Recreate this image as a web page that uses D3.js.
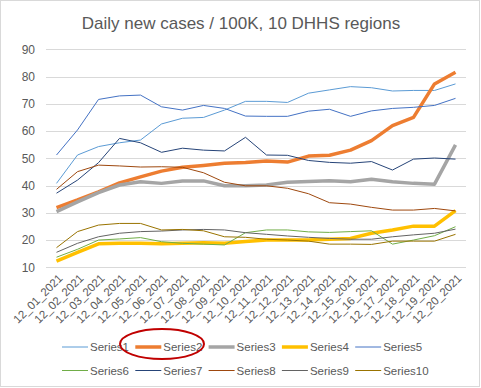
<!DOCTYPE html>
<html>
<head>
<meta charset="utf-8">
<script src="https://cdn.jsdelivr.net/npm/d3@7"></script>
<style>
  body { margin: 0; background: #fff; }
  text { font-family: "Liberation Sans", Arial, sans-serif; fill: #595959; }
</style>
</head>
<body>
<div id="content"></div>
<script>
var dates = ['12_01_2021', '12_02_2021', '12_03_2021', '12_04_2021', '12_05_2021',
    '12_06_2021', '12_07_2021', '12_08_2021', '12_09_2021', '12_10_2021',
    '12_11_2021', '12_12_2021', '12_13_2021', '12_14_2021', '12_15_2021',
    '12_16_2021', '12_17_2021', '12_18_2021', '12_19_2021', '12_20_2021'];
var yTicks = [10, 20, 30, 40, 50, 60, 70, 80, 90];

var series1 = [40.8, 51.2, 54.3, 55.7, 56.7, 62.6, 64.7, 65.0, 67.7, 70.9, 70.9, 70.5, 73.9, 75.1, 76.3, 75.9, 74.7, 74.9, 74.9, 77.3];
var series2 = [31.9, 34.7, 37.7, 41.0, 43.2, 45.3, 46.7, 47.4, 48.2, 48.5, 49.0, 48.6, 50.8, 51.1, 53.0, 56.5, 62.0, 65.0, 77.3, 81.6];
var series3 = [30.4, 34.0, 37.4, 40.2, 41.4, 40.8, 41.7, 41.7, 39.9, 39.9, 40.2, 41.2, 41.5, 41.8, 41.4, 42.3, 41.4, 40.8, 40.5, 54.9];
var series4 = [12.3, 15.5, 18.6, 18.8, 18.8, 18.6, 18.8, 19.0, 18.8, 19.5, 20.0, 20.0, 20.0, 20.3, 20.6, 22.5, 23.7, 25.1, 25.1, 30.8];
var series5 = [51.2, 60.4, 71.6, 72.9, 73.2, 68.9, 67.7, 69.4, 68.3, 65.5, 65.4, 65.4, 67.3, 68.0, 65.4, 67.4, 68.3, 68.7, 69.4, 72.0];
var series6 = [13.7, 16.6, 20.0, 20.4, 20.9, 19.4, 18.8, 18.5, 18.2, 22.7, 23.7, 23.7, 23.0, 22.8, 23.1, 23.4, 18.5, 20.0, 21.6, 24.9];
var series7 = [37.2, 42.0, 48.4, 57.3, 55.7, 52.2, 53.7, 53.0, 52.7, 57.7, 51.2, 51.1, 49.2, 48.5, 48.2, 48.8, 45.7, 49.7, 50.1, 49.7];
var series8 = [38.6, 45.1, 47.5, 47.2, 46.8, 46.9, 46.7, 44.7, 41.2, 39.9, 39.9, 39.0, 37.0, 33.7, 33.2, 32.0, 31.0, 31.0, 31.6, 30.7];
var series9 = [15.5, 18.8, 21.2, 22.5, 23.1, 23.3, 23.7, 23.9, 23.7, 22.7, 22.1, 21.5, 21.0, 20.6, 20.3, 20.3, 21.2, 21.9, 22.5, 24.0];
var series10 = [17.2, 23.1, 25.5, 26.1, 26.1, 23.7, 23.9, 23.4, 21.2, 21.0, 20.3, 20.0, 19.6, 18.5, 18.5, 18.4, 19.6, 19.6, 19.6, 22.1];

var names = ['Series1', 'Series2', 'Series3', 'Series4', 'Series5',
    'Series6', 'Series7', 'Series8', 'Series9', 'Series10'];
var colors = ['#5b9bd5', '#ed7d31', '#a5a5a5', '#ffc000', '#4472c4',
    '#70ad47', '#264478', '#9e480e', '#636363', '#997300'];
var widths = [1, 3.5, 3.5, 3.5, 1, 1, 1, 1, 1, 1];
var allSeries = [series1, series2, series3, series4, series5,
    series6, series7, series8, series9, series10];

var W = 481, H = 388;
var svg = d3.select('#content').append('svg')
    .attr('width', W)
    .attr('height', H);

// chart border
svg.append('rect')
    .attr('x', 0.5).attr('y', 0.5)
    .attr('width', W - 2).attr('height', H - 2)
    .attr('fill', '#fff').attr('stroke', '#d9d9d9');

svg.append('text')
    .attr('x', 241).attr('y', 29)
    .attr('text-anchor', 'middle')
    .style('font-size', '17px')
    .text('Daily new cases / 100K, 10 DHHS regions');

var x = d3.scaleBand().domain(dates).range([46, 466]);
var y = d3.scaleLinear().domain([10, 90]).range([267.3, 49.3]);

// gridlines
svg.append('g').selectAll('line')
    .data(yTicks).enter().append('line')
    .attr('x1', 46).attr('x2', 466)
    .attr('y1', function(d) { return Math.round(y(d)) + 0.5; })
    .attr('y2', function(d) { return Math.round(y(d)) + 0.5; })
    .attr('stroke', '#d9d9d9');

// y labels
svg.append('g').selectAll('text')
    .data(yTicks).enter().append('text')
    .attr('x', 35)
    .attr('y', function(d) { return y(d); })
    .attr('dy', '0.35em')
    .attr('text-anchor', 'end')
    .style('font-size', '12px')
    .text(function(d) { return d; });

// x labels, rotated
svg.append('g').selectAll('text')
    .data(dates).enter().append('text')
    .attr('transform', function(d) {
        return 'translate(' + (x(d) + x.bandwidth() / 2 + 4) + ',276) rotate(-45)';
    })
    .attr('text-anchor', 'end')
    .attr('dy', '0.35em')
    .style('font-size', '11.5px')
    .text(function(d) { return d; });

var line = d3.line()
    .x(function(d, i) { return x(dates[i]) + x.bandwidth() / 2; })
    .y(function(d) { return y(d); });

// draw in Excel order so later series sit on top
allSeries.forEach(function(s, k) {
    svg.append('path')
        .attr('d', line(s))
        .attr('fill', 'none')
        .attr('stroke', colors[k])
        .attr('stroke-width', widths[k])
        .attr('stroke-linejoin', 'round');
});

// legend, two rows of five
var legend = svg.append('g');
names.forEach(function(n, k) {
    var col = k % 5, row = Math.floor(k / 5);
    var lx = 62 + col * 73.3, ly = 347 + row * 23.5;
    legend.append('line')
        .attr('x1', lx).attr('x2', lx + 26)
        .attr('y1', ly).attr('y2', ly)
        .attr('stroke', colors[k])
        .attr('stroke-width', widths[k]);
    legend.append('text')
        .attr('x', lx + 28).attr('y', ly)
        .attr('dy', '0.35em')
        .style('font-size', '11.5px')
        .text(n);
});

// red ellipse drawn around the Series2 legend entry
svg.append('ellipse')
    .attr('cx', 162).attr('cy', 344)
    .attr('rx', 42).attr('ry', 15)
    .attr('fill', 'none')
    .attr('stroke', '#c00000')
    .attr('stroke-width', 2);
</script>
</body>
</html>
